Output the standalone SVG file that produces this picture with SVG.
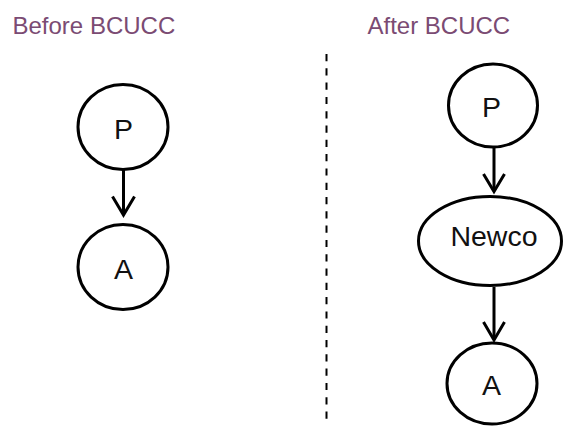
<svg xmlns="http://www.w3.org/2000/svg" width="565" height="426" viewBox="0 0 565 426">
<style>
.title{font-family:"Liberation Sans",Arial,sans-serif;font-size:24px;fill:#7B4B73}
.node{fill:#fff;stroke:#000;stroke-width:3}
.lbl{font-family:"Liberation Sans",Arial,sans-serif;font-size:28.5px;fill:#111;text-anchor:middle}
.conn{fill:none;stroke:#000;stroke-width:3}
.head{fill:none;stroke:#000;stroke-width:3;stroke-linejoin:miter}
</style>
<rect width="565" height="426" fill="#fff"/>
<text class="title" x="12.5" y="34">Before BCUCC</text>
<text class="title" x="367.5" y="34">After BCUCC</text>
<line x1="326.5" y1="54" x2="326.5" y2="424" stroke="#000" stroke-width="2" stroke-dasharray="7.2 7.1"/>
<g id="connectors">
<line class="conn" x1="123.5" y1="170" x2="123.5" y2="214"/>
<polyline class="head" points="112.5,196.5 123.5,215 134.5,196.5"/>
<line class="conn" x1="494" y1="148" x2="494" y2="190"/>
<polyline class="head" points="483.5,174 494,191.5 504.5,174"/>
<line class="conn" x1="494" y1="287" x2="494" y2="339"/>
<polyline class="head" points="483.5,322 494,340 504.5,322"/>
</g>
<g id="left-P">
<ellipse class="node" cx="123" cy="127" rx="45" ry="42.5"/>
<text class="lbl" x="123.5" y="139">P</text>
</g>
<g id="left-A">
<ellipse class="node" cx="123" cy="267" rx="45" ry="42.5"/>
<text class="lbl" x="123.5" y="279">A</text>
</g>
<g id="right-P">
<ellipse class="node" cx="493" cy="105.5" rx="44.5" ry="41.5"/>
<text class="lbl" x="491.5" y="116.5">P</text>
</g>
<g id="right-Newco">
<ellipse class="node" cx="490" cy="241" rx="71.5" ry="44.5"/>
<text class="lbl" x="494" y="246">Newco</text>
</g>
<g id="right-A">
<ellipse class="node" cx="492" cy="383.5" rx="45" ry="40.5"/>
<text class="lbl" x="491.5" y="394.5">A</text>
</g>
</svg>
